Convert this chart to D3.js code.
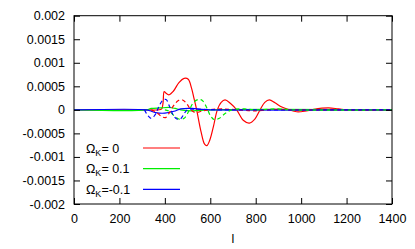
<!DOCTYPE html>
<html lang="en">
<head>
<meta charset="utf-8"/>
<title>Omega_K comparison</title>
<script src="https://d3js.org/d3.v7.min.js"></script>
<style>
  body { margin: 0; background: #fff; }
  text { font-family: "Liberation Sans", Arial, Helvetica, sans-serif; font-size: 12.5px; fill: #000; }
</style>
</head>
<body>
<script>
// chart size
var w = 415;
var h = 249;

// values are in units of 1e-4
var xTicks = [0, 200, 400, 600, 800, 1000, 1200, 1400];
var yTicks = [-0.002, -0.0015, -0.001, -0.0005, 0, 0.0005, 0.001, 0.0015, 0.002];
var yTickLabels = ["-0.002", "-0.0015", "-0.001", "-0.0005", "0", "0.0005", "0.001", "0.0015", "0.002"];

var legendLabels = ["= 0", "= 0.1", "=-0.1"];
var colors = ["#ff0000", "#00ee00", "#0000ff"];

// solid lines (one per Omega_K)
var redSolid = [[0,0],[300,0],[370,0],[386,0.2],[392,1.5],[397,3.9],[404,3.6],[418,3.2],[438,4.0],[462,5.8],[485,6.7],[503,6.5],[518,4.5],[528,2.5],[540,0],[560,-4.8],[575,-7.3],[585,-7.6],[598,-6.4],[614,-3.5],[631,0],[648,1.6],[665,2.1],[688,1.4],[716,0],[745,-2.2],[772,-2.8],[797,-1.9],[819,0],[840,1.6],[860,2.1],[885,1.5],[915,0.6],[948,0],[980,-0.4],[1015,-0.3],[1055,0.1],[1120,0.4],[1165,0.2],[1210,0],[1400,0]];
var greenSolid = [[0,0],[320,0],[340,0.3],[380,0.4],[420,0.5],[445,0.3],[470,0],[520,-0.2],[600,0],[1400,0]];
var blueSolid = [[0,0],[320,0],[335,-0.2],[360,-0.6],[400,-0.7],[440,-0.3],[470,0.2],[520,0.3],[560,0.1],[600,0],[1400,0]];

// dashed lines (same colours, no legend entry)
var redDashed = [[340,0],[365,-0.6],[388,-1.5],[405,-1.6],[420,-0.6],[440,1.0],[460,2.0],[478,2.1],[495,1.4],[515,0],[535,-0.6],[560,-0.3],[590,0],[650,0.2],[720,0],[800,-0.2],[880,0.1],[960,0],[1400,0]];
var greenDashed = [[400,0],[420,-0.3],[440,-1.2],[465,-2.0],[485,-1.8],[505,-0.3],[525,1.5],[548,2.2],[565,2.0],[585,0.4],[600,-1.2],[618,-2.1],[640,-1.8],[665,-0.8],[695,0],[750,0.2],[800,0],[900,0.2],[950,0],[1400,0]];
var blueDashed = [[310,0],[325,-1.2],[340,-1.8],[355,-1.2],[372,0.5],[390,2.0],[405,2.2],[420,0.8],[438,-1.2],[455,-2.0],[470,-1.9],[485,-0.8],[500,0],[560,0.1],[650,0],[1400,0]];

var solids = [redSolid, greenSolid, blueSolid];
var dashes = [redDashed, greenDashed, blueDashed];

// plot area (window.top is reserved, so pTop etc.)
var pLeft = 74, pRight = 392, pTop = 15.7, pBottom = 204;

var xScale = d3.scaleLinear().domain([0, 1400]).range([pLeft, pRight]);
var yScale = d3.scaleLinear().domain([-0.002, 0.002]).range([pBottom, pTop]);

var svg = d3.select("body")
            .append("svg")
            .attr("width", w)
            .attr("height", h);

var line = d3.line()
             .x(function(d) { return xScale(d[0]); })
             .y(function(d) { return yScale(d[1] * 1e-4); })
             .curve(d3.curveCatmullRom.alpha(0.5));

// clip curves to the frame
svg.append("clipPath").attr("id", "plot")
   .append("rect")
   .attr("x", pLeft).attr("y", pTop)
   .attr("width", pRight - pLeft).attr("height", pBottom - pTop);

var lines = svg.append("g").attr("clip-path", "url(#plot)");

// solids first, then the dashed ones on top
solids.forEach(function(s, i) {
    lines.append("path")
         .attr("d", line(s))
         .attr("fill", "none")
         .attr("stroke", colors[i])
         .attr("stroke-width", 1.2);
});
dashes.forEach(function(s, i) {
    lines.append("path")
         .attr("d", line(s))
         .attr("fill", "none")
         .attr("stroke", colors[i])
         .attr("stroke-width", 1.2)
         .attr("stroke-dasharray", "4,3");
});

// axes: ticks inward, mirrored on all four sides
var tickLen = 6;
svg.append("g")
   .attr("transform", "translate(0," + pBottom + ")")
   .call(d3.axisBottom(xScale).tickValues(xTicks).tickSize(-tickLen).tickPadding(tickLen + 4)
          .tickFormat(d3.format("d")))
   .call(function(g) { g.select(".domain").remove(); });

svg.append("g")
   .attr("transform", "translate(0," + pTop + ")")
   .call(d3.axisTop(xScale).tickValues(xTicks).tickSize(-tickLen).tickFormat(""))
   .call(function(g) { g.select(".domain").remove(); });

svg.append("g")
   .attr("transform", "translate(" + pLeft + ",0)")
   .call(d3.axisLeft(yScale).tickValues(yTicks).tickSize(-tickLen).tickPadding(tickLen + 3)
          .tickFormat(function(d, i) { return yTickLabels[i]; }))
   .call(function(g) { g.select(".domain").remove(); });

svg.append("g")
   .attr("transform", "translate(" + pRight + ",0)")
   .call(d3.axisRight(yScale).tickValues(yTicks).tickSize(-tickLen).tickFormat(""))
   .call(function(g) { g.select(".domain").remove(); });

svg.selectAll(".tick line").attr("stroke", "#000");
svg.selectAll(".tick text")
   .attr("fill", "#000")
   .style("font-family", "'Liberation Sans', Arial, sans-serif")
   .style("font-size", "12.5px");

// frame
svg.append("rect")
   .attr("x", pLeft).attr("y", pTop)
   .attr("width", pRight - pLeft).attr("height", pBottom - pTop)
   .attr("fill", "none")
   .attr("stroke", "#000")
   .attr("stroke-width", 1);

// x axis title
svg.append("text")
   .attr("x", (pLeft + pRight) / 2)
   .attr("y", 243)
   .attr("text-anchor", "middle")
   .text("l");

// legend
var legend = svg.append("g");
legendLabels.forEach(function(lab, i) {
    var y = 148 + i * 20.7;
    var t = legend.append("text")
                  .attr("x", 86)
                  .attr("y", y + 4.5);
    t.append("tspan").text("\u03A9");
    t.append("tspan").attr("dy", 3).style("font-size", "9px").text("K");
    t.append("tspan").attr("dy", -3).text(lab);
    legend.append("line")
          .attr("x1", 143).attr("x2", 180)
          .attr("y1", y).attr("y2", y)
          .attr("stroke", colors[i])
          .attr("stroke-width", 1.2);
});
</script>
</body>
</html>
